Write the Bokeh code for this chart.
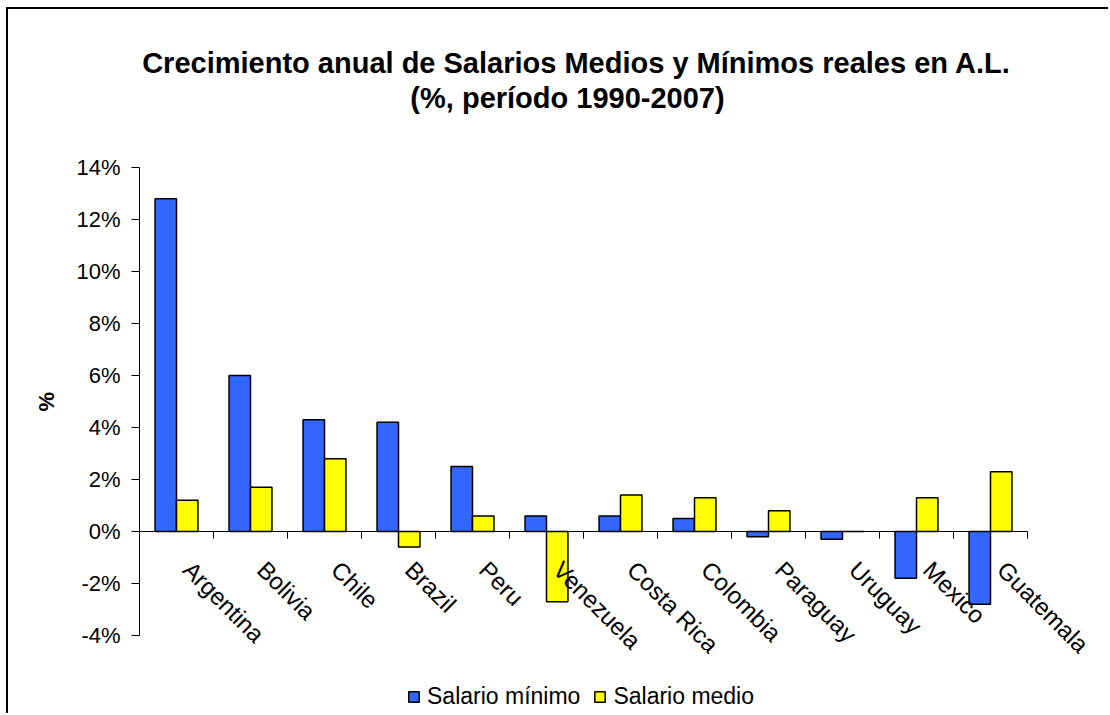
import numpy as np
from bokeh.plotting import figure
from bokeh.models import (Range1d, FixedTicker, PrintfTickFormatter, Legend,
                          LegendItem, Title, ColumnDataSource, LabelSet, Label)
from bokeh.core.properties import value
from bokeh.embed import file_html
from bokeh.resources import INLINE

# ---- data ----
countries = ["Argentina", "Bolivia", "Chile", "Brazil", "Peru", "Venezuela",
             "Costa Rica", "Colombia", "Paraguay", "Uruguay", "Mexico", "Guatemala"]
salario_minimo = [12.8, 6.0, 4.3, 4.2, 2.5, 0.6, 0.6, 0.5, -0.2, -0.3, -1.8, -2.8]
salario_medio = [1.2, 1.7, 2.8, -0.6, 0.6, -2.7, 1.4, 1.3, 0.8, 0.0, 1.3, 2.3]
y_ticks = [-4, -2, 0, 2, 4, 6, 8, 10, 12, 14]
series_names = ["Salario mínimo", "Salario medio"]
series_colors = ["#3366FF", "#FFFF00"]
title_line1 = "Crecimiento anual de Salarios Medios y Mínimos reales en A.L."
title_line2 = "(%, período 1990-2007)"
y_label = "%"

FONT = "Liberation Sans"
n = len(countries)
centers = np.arange(n) + 0.5
bar_w = 0.29

# ---- layout geometry (page pixels) ----
W, H = 1102, 706            # figure size (placed at page x=8, y=9)
PAGE_X0, PAGE_Y0 = 8, 9
AX_LEFT, AX_RIGHT = 139, 1027   # category axis extent
AX_TOP, AX_BOTTOM = 167, 635    # value axis extent (14% .. -4%)
u_per_px_y = (y_ticks[-1] - y_ticks[0]) / (AX_BOTTOM - AX_TOP)
u_per_px_x = n / (AX_RIGHT - AX_LEFT)
y_hi = y_ticks[-1] + (AX_TOP - PAGE_Y0) * u_per_px_y
y_lo = y_ticks[0] - (PAGE_Y0 + H - AX_BOTTOM) * u_per_px_y
x_hi = n + (PAGE_X0 + W - AX_RIGHT) * u_per_px_x
tick_len = 7 * u_per_px_y


def page_to_data_y(py):
    return y_ticks[-1] + (AX_TOP - py) * u_per_px_y


def page_to_data_x(px):
    return (px - AX_LEFT) * u_per_px_x


src = ColumnDataSource(dict(
    cat=countries,
    xc=centers,
    x_min=centers - bar_w / 2,
    x_med=centers + bar_w / 2,
    minimo=salario_minimo,
    medio=salario_medio,
    zero=[0.0] * n,
))
bounds = list(range(n + 1))
tick_src = ColumnDataSource(dict(x=bounds, y0=[0.0] * (n + 1),
                                 y1=[-tick_len] * (n + 1)))

p = figure(width=W, height=H, x_range=Range1d(0, x_hi), y_range=Range1d(y_lo, y_hi),
           output_backend="svg", toolbar_location=None, x_axis_type=None,
           title=None, min_border=0, min_border_left=AX_LEFT - PAGE_X0,
           min_border_right=0, min_border_top=0, min_border_bottom=0)
p.styles = {"margin-left": "6px", "margin-top": "7px",
            "border-left": "2px solid black", "border-top": "2px solid black"}
p.outline_line_color = None
p.background_fill_color = "white"
p.border_fill_color = "white"
p.grid.visible = False

# bars
r1 = p.vbar(x="x_min", top="minimo", bottom="zero", width=bar_w, source=src,
            fill_color=series_colors[0], line_color="black", line_width=1.5)
r2 = p.vbar(x="x_med", top="medio", bottom="zero", width=bar_w, source=src,
            fill_color=series_colors[1], line_color="black", line_width=1.5)

# category axis line at zero with ticks on category boundaries
p.segment(x0=[0], y0=[0], x1=[n], y1=[0], line_color="black", line_width=1)
p.segment(x0="x", y0="y0", x1="x", y1="y1", source=tick_src,
          line_color="black", line_width=1)

# y axis (real Bokeh axis limited to the value range)
ya = p.yaxis[0]
ya.bounds = (y_ticks[0], y_ticks[-1])
ya.ticker = FixedTicker(ticks=y_ticks)
ya.formatter = PrintfTickFormatter(format="%d%%")
ya.major_label_text_font = FONT
ya.major_label_text_font_size = "22px"
ya.major_label_text_color = "black"
ya.major_label_standoff = 11
ya.major_tick_out = 8
ya.major_tick_in = 0
ya.minor_tick_out = 0
ya.minor_tick_in = 0
ya.axis_line_color = "black"
ya.major_tick_line_color = "black"

# y axis title, centred on the value range (offset measured up from frame bottom)
label_len = 20
ytitle = Title(text=y_label, text_font=FONT, text_font_size="22px",
               text_font_style="bold", text_color="black", align="left",
               offset=(PAGE_Y0 + H) - ((AX_TOP + AX_BOTTOM) / 2 + label_len / 2),
               standoff=29)
p.add_layout(ytitle, "left")

# chart title (two lines)
p.add_layout(Label(x=page_to_data_x(576), y=page_to_data_y(62), text=title_line1,
                   text_align="center", text_baseline="alphabetic", text_font=FONT,
                   text_font_size="29px", text_font_style="bold", text_color="black"))
p.add_layout(Label(x=page_to_data_x(567), y=page_to_data_y(97), text=title_line2,
                   text_align="center", text_baseline="alphabetic", text_font=FONT,
                   text_font_size="29px", text_font_style="bold", text_color="black"))

# rotated category labels
labels = LabelSet(x="xc", y="zero", text="cat", source=src, angle=-np.pi / 4,
                  text_align="left", text_baseline="alphabetic",
                  x_offset=5, y_offset=-40, text_font=value(FONT),
                  text_font_size=value("24px"), text_color=value("black"))
p.add_layout(labels)

# legend inside the frame, bottom centre
legend = Legend(items=[LegendItem(label=series_names[0], renderers=[r1]),
                       LegendItem(label=series_names[1], renderers=[r2])],
                orientation="horizontal", location=(407 - AX_LEFT, 5))
legend.label_text_font = FONT
legend.label_text_font_size = "23px"
legend.label_text_color = "black"
legend.glyph_width = 13
legend.glyph_height = 13
legend.label_standoff = 7
legend.spacing = 13
legend.padding = 0
legend.margin = 0
legend.border_line_color = None
legend.background_fill_alpha = 0
p.add_layout(legend)

open("out.html", "w").write(file_html(p, INLINE))
